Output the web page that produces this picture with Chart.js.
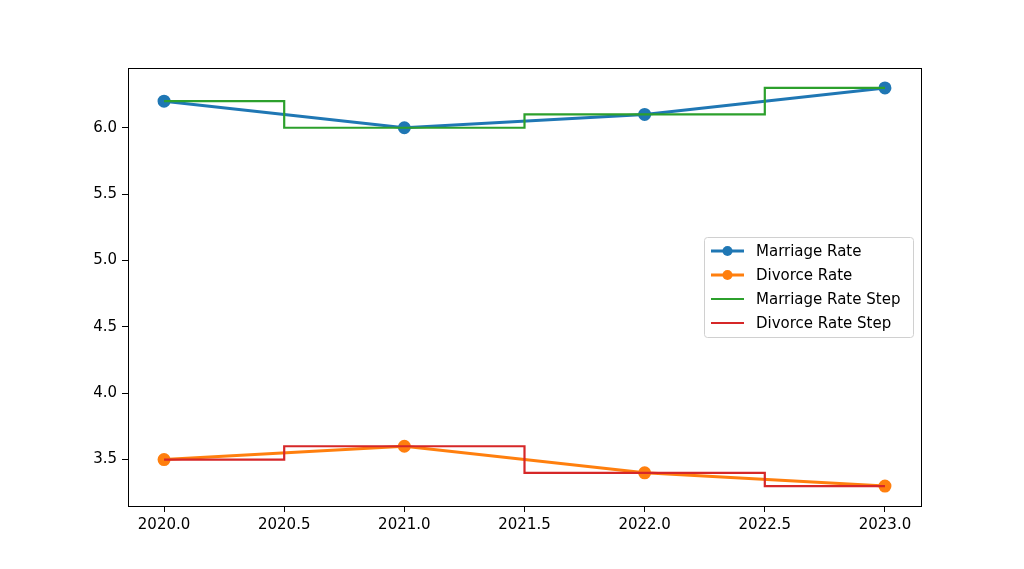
<!DOCTYPE html>
<html>
<head>
<meta charset="utf-8">
<script src="https://cdn.jsdelivr.net/npm/chart.js@4"></script>
<style>
  html, body { margin: 0; padding: 0; background: #fff; }
  #wrap { width: 1024px; height: 569px; }
</style>
</head>
<body>
<div id="wrap"><canvas id="chartRates"></canvas></div>
<script>
const years = [2020, 2021, 2022, 2023];
const marriageRate = [6.2, 6.0, 6.1, 6.3];
const divorceRate = [3.5, 3.6, 3.4, 3.3];
const xTicks = [2020.0, 2020.5, 2021.0, 2021.5, 2022.0, 2022.5, 2023.0];
const yTicks = [3.5, 4.0, 4.5, 5.0, 5.5, 6.0];

const toPoints = (values) => values.map((v, i) => ({ x: years[i], y: v }));
const font = { family: 'DejaVu Sans', size: 15 };

// matplotlib-like frame on all four sides
const framePlugin = {
  id: 'frame',
  afterDatasetsDraw(chart) {
    const { ctx, chartArea: a } = chart;
    ctx.save();
    ctx.strokeStyle = '#000';
    ctx.lineWidth = 1;
    ctx.strokeRect(a.left + 0.5, a.top + 0.5, a.right - a.left, a.bottom - a.top);
    ctx.restore();
  }
};

// legend box inside the plot, right middle
const legendPlugin = {
  id: 'innerLegend',
  afterDraw(chart) {
    const { ctx } = chart;
    const x0 = 704, y0 = 237, w = 209, h = 100, row = 24;
    ctx.save();
    ctx.fillStyle = 'rgba(255,255,255,0.8)';
    ctx.strokeStyle = '#d0d0d0';
    ctx.lineWidth = 1;
    ctx.beginPath();
    ctx.roundRect(x0 + 0.5, y0 + 0.5, w, h, 3);
    ctx.fill();
    ctx.stroke();
    ctx.font = '15px "DejaVu Sans"';
    ctx.textBaseline = 'middle';
    chart.data.datasets.forEach((ds, i) => {
      const y = y0 + 14 + i * row;
      ctx.strokeStyle = ds.borderColor;
      ctx.lineWidth = ds.borderWidth;
      ctx.beginPath();
      ctx.moveTo(711, y);
      ctx.lineTo(744, y);
      ctx.stroke();
      if (ds.pointRadius > 0) {
        ctx.fillStyle = ds.borderColor;
        ctx.beginPath();
        ctx.arc(727.5, y, ds.pointRadius, 0, Math.PI * 2);
        ctx.fill();
      }
      ctx.fillStyle = '#000';
      ctx.fillText(ds.label, 756, y + 1);
    });
    ctx.restore();
  }
};

new Chart(document.getElementById('chartRates'), {
  type: 'line',
  data: {
    datasets: [
      {
        label: 'Marriage Rate',
        data: toPoints(marriageRate),
        borderColor: '#1f77b4',
        backgroundColor: '#1f77b4',
        borderWidth: 3,
        pointRadius: 5,
        pointHoverRadius: 5,
        order: 2
      },
      {
        label: 'Divorce Rate',
        data: toPoints(divorceRate),
        borderColor: '#ff7f0e',
        backgroundColor: '#ff7f0e',
        borderWidth: 3,
        pointRadius: 5,
        pointHoverRadius: 5,
        order: 2
      },
      {
        label: 'Marriage Rate Step',
        data: toPoints(marriageRate),
        borderColor: '#2ca02c',
        backgroundColor: '#2ca02c',
        borderWidth: 2.2,
        pointRadius: 0,
        stepped: 'middle',
        order: 1
      },
      {
        label: 'Divorce Rate Step',
        data: toPoints(divorceRate),
        borderColor: '#d62728',
        backgroundColor: '#d62728',
        borderWidth: 2.2,
        pointRadius: 0,
        stepped: 'middle',
        order: 1
      }
    ]
  },
  options: {
    responsive: true,
    maintainAspectRatio: false,
    animation: false,
    layout: { padding: { top: 68, right: 103, left: 0, bottom: 0 } },
    plugins: {
      legend: { display: false },
      tooltip: { enabled: false }
    },
    scales: {
      x: {
        type: 'linear',
        min: 2019.85,
        max: 2023.15,
        afterBuildTicks: (scale) => { scale.ticks = xTicks.map((v) => ({ value: v })); },
        afterFit: (scale) => { scale.height = 63; },
        grid: { display: true, drawOnChartArea: false, drawTicks: true, tickLength: 6, color: '#000' },
        border: { display: true, color: '#000' },
        ticks: {
          color: '#000',
          font,
          padding: 4,
          maxRotation: 0,
          callback: (v) => Number(v).toFixed(1)
        }
      },
      y: {
        min: 3.15,
        max: 6.45,
        afterBuildTicks: (scale) => { scale.ticks = yTicks.map((v) => ({ value: v })); },
        afterFit: (scale) => { scale.width = 128; },
        grid: { display: true, drawOnChartArea: false, drawTicks: true, tickLength: 6, color: '#000' },
        border: { display: true, color: '#000' },
        ticks: {
          color: '#000',
          font,
          padding: 5,
          callback: (v) => Number(v).toFixed(1)
        }
      }
    }
  },
  plugins: [framePlugin, legendPlugin]
});
</script>
</body>
</html>
